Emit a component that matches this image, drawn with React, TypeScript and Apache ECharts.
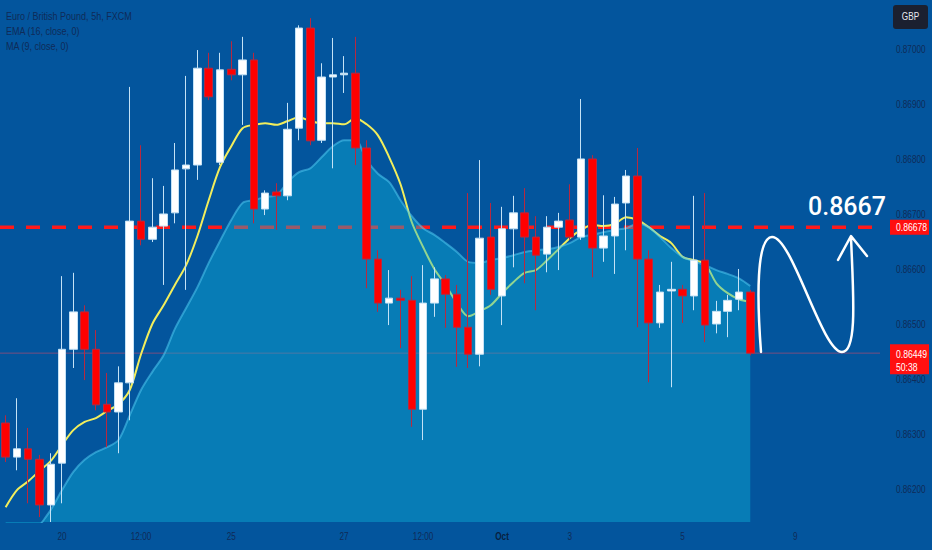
import React, { useEffect, useRef } from "react";
import * as echarts from "echarts";

// EUR/GBP 5h candles
const opens = [
  0.86322, 0.8626, 0.86275, 0.86256, 0.86173, 0.86249, 0.86456, 0.86524, 0.86456, 0.86356,
  0.86342, 0.86395, 0.86689, 0.86656, 0.8668, 0.86704, 0.86784, 0.86791, 0.86967, 0.86796,
  0.86965, 0.86955, 0.86982, 0.86711, 0.86742, 0.86735, 0.86858, 0.8704, 0.86836, 0.86951,
  0.86955, 0.86958, 0.86822, 0.8662, 0.8654, 0.86549, 0.86545, 0.86347, 0.8654, 0.86584,
  0.86556, 0.86496, 0.86447, 0.8666, 0.86553, 0.86675, 0.86704, 0.8666, 0.86629, 0.86678,
  0.86691, 0.8666, 0.86802, 0.8664, 0.86662, 0.86722, 0.86771, 0.8662, 0.86504, 0.86562,
  0.86565, 0.86553, 0.86618, 0.86502, 0.86525, 0.86547, 0.8656
];
const closes = [
  0.8626, 0.86275, 0.86256, 0.86173, 0.86247, 0.86456, 0.86524, 0.86456, 0.86355, 0.86342,
  0.86395, 0.86689, 0.86656, 0.86678, 0.86702, 0.86782, 0.86791, 0.86967, 0.86915, 0.86964,
  0.86955, 0.86982, 0.86711, 0.8674, 0.86735, 0.86856, 0.8704, 0.86835, 0.86951, 0.86955,
  0.86958, 0.86822, 0.8662, 0.8654, 0.86549, 0.86545, 0.86347, 0.8654, 0.86584, 0.86556,
  0.86496, 0.86447, 0.86658, 0.86565, 0.86675, 0.86704, 0.8666, 0.86627, 0.86678, 0.86689,
  0.8666, 0.86802, 0.8664, 0.86662, 0.8672, 0.86771, 0.8662, 0.86504, 0.8656, 0.86565,
  0.86553, 0.86618, 0.865, 0.86525, 0.86545, 0.8656, 0.86449
];
const highs = [
  0.86336, 0.86367, 0.86313, 0.86264, 0.86267, 0.86589, 0.86595, 0.86536, 0.86491, 0.86413,
  0.86425, 0.86933, 0.86827, 0.86767, 0.86753, 0.86831, 0.86953, 0.87, 0.86995, 0.86995,
  0.87016, 0.87024, 0.86995, 0.86745, 0.86758, 0.86904, 0.87045, 0.87058, 0.86976, 0.87022,
  0.86989, 0.87024, 0.86836, 0.86636, 0.866, 0.86564, 0.86589, 0.86609, 0.86605, 0.86591,
  0.86573, 0.8674, 0.868, 0.86722, 0.86715, 0.86735, 0.86749, 0.86698, 0.86698, 0.86704,
  0.86756, 0.86911, 0.86809, 0.86736, 0.86733, 0.86782, 0.86822, 0.86636, 0.86573, 0.86615,
  0.86573, 0.86735, 0.8674, 0.86544, 0.86555, 0.86602, 0.86564
];
const lows = [
  0.86251, 0.86236, 0.86176, 0.86151, 0.86142, 0.86176, 0.86422, 0.864, 0.86345, 0.86278,
  0.86267, 0.86327, 0.86645, 0.86651, 0.86573, 0.86685, 0.86564, 0.86764, 0.86909, 0.86791,
  0.86945, 0.86864, 0.86685, 0.867, 0.86673, 0.86727, 0.86836, 0.86827, 0.86831, 0.86785,
  0.86922, 0.86791, 0.86567, 0.86524, 0.865, 0.86458, 0.86315, 0.86291, 0.86515, 0.86495,
  0.86424, 0.86422, 0.86425, 0.86555, 0.865, 0.86605, 0.86576, 0.86527, 0.86596, 0.866,
  0.86655, 0.86655, 0.86587, 0.86615, 0.86593, 0.86636, 0.86496, 0.86396, 0.86495, 0.86387,
  0.86504, 0.86527, 0.86469, 0.86485, 0.86478, 0.86527, 0.86445
];

// yellow moving average line
const maValues = [
  0.86169, 0.862, 0.86216, 0.86235, 0.86253, 0.86282, 0.86309, 0.86324, 0.86331, 0.86344,
  0.86356, 0.86382, 0.86447, 0.86502, 0.86536, 0.86573, 0.86609, 0.86662, 0.86727, 0.86787,
  0.86825, 0.86858, 0.86864, 0.86867, 0.86864, 0.86871, 0.86878, 0.86871, 0.86867, 0.86867,
  0.86865, 0.86876, 0.86865, 0.86845, 0.86805, 0.86756, 0.86687, 0.86642, 0.86602, 0.86573,
  0.8654, 0.86516, 0.86525, 0.86536, 0.86558, 0.86578, 0.86595, 0.866, 0.86618, 0.86638,
  0.86658, 0.86673, 0.86682, 0.8668, 0.86684, 0.86696, 0.86691, 0.86678, 0.86662, 0.86649,
  0.86624, 0.86618, 0.86611, 0.86576, 0.86558, 0.86547, 0.86542
];

// slower average drawn as the filled area
const emaValues = [
  0.8604, 0.86071, 0.86104, 0.86135, 0.86164, 0.862, 0.86233, 0.86255, 0.86269, 0.86278,
  0.86291, 0.86336, 0.86382, 0.86415, 0.86445, 0.86493, 0.86531, 0.86569, 0.86613, 0.86653,
  0.86691, 0.86722, 0.86727, 0.86733, 0.86736, 0.8676, 0.86778, 0.86785, 0.86805, 0.86825,
  0.86836, 0.86836, 0.868, 0.86775, 0.8676, 0.86727, 0.86698, 0.86676, 0.86664, 0.86649,
  0.86633, 0.86615, 0.86613, 0.86618, 0.86622, 0.86627, 0.86633, 0.86636, 0.86638, 0.86642,
  0.86649, 0.8666, 0.86664, 0.86669, 0.86673, 0.86676, 0.86684, 0.86678, 0.8666, 0.8664,
  0.86624, 0.86616, 0.86609, 0.866, 0.86593, 0.86585, 0.86571
];

const EMPTY_BARS = 11; // empty slots to the right of the last candle
const tickMarks: [number, string][] = [
  [5, "20"], [12, "12:00"], [20, "25"], [30, "27"], [37, "12:00"],
  [44, "Oct"], [50, "3"], [60, "5"], [70, "9"]
];
const priceTicks = [0.862, 0.863, 0.864, 0.865, 0.866, 0.867, 0.868, 0.869, 0.87];
const targetLevel = 0.86678;
const targetText = "0.8667";
const lastPrice = 0.86449;
const countdown = "50:38";
const legendLines = ["Euro / British Pound, 5h, FXCM", "EMA (16, close, 0)", "MA (9, close, 0)"];

const WAVE_PATH =
  "M761 352 C757 300 756 238 772 237 C792 236 822 352 842 352 C858 352 853 290 851 237 M838 260 L851 236 L867 256";
echarts.graphic.registerShape("waveArrow", echarts.graphic.extendPath(WAVE_PATH, {}));

const BG = "#03559d";
const TEXT = "#0f2b58";
const FONT = "'Liberation Sans', Arial, sans-serif";
const SQUEEZE = 0.82; // the original uses a narrow UI font

const App = () => {
  const ref = useRef<HTMLDivElement>(null);

  useEffect(() => {
    const total = opens.length + EMPTY_BARS;
    const categories = Array.from({ length: total }, (_, i) => String(i));
    const candles = opens.map((o, i) => [o, closes[i], lows[i], highs[i]]);

    const chart = echarts.init(ref.current, null, { renderer: "svg" });
    chart.setOption({
      animation: false,
      backgroundColor: BG,
      grid: { left: 0, right: 52, top: 0, bottom: 28 },
      xAxis: {
        type: "category",
        data: categories,
        boundaryGap: true,
        axisLine: { show: false },
        axisTick: { show: false },
        splitLine: { show: false },
        axisLabel: { show: false }
      },
      yAxis: {
        type: "value",
        position: "right",
        min: 0.86142,
        max: 0.87091,
        axisLine: { show: false },
        axisTick: { show: false },
        splitLine: { show: false },
        axisLabel: { show: false }
      },
      series: [
        {
          name: "MA (9, close, 0)",
          type: "line",
          data: maValues,
          z: 2,
          showSymbol: false,
          smooth: 0.3,
          lineStyle: { color: "#f2ee5c", width: 2 }
        },
        {
          name: "EMA (16, close, 0)",
          type: "line",
          data: emaValues,
          z: 3,
          showSymbol: false,
          smooth: 0.3,
          lineStyle: { color: "rgba(80,200,240,0.55)", width: 2 },
          areaStyle: { color: "rgba(15,178,218,0.6)", origin: "start" }
        },
        {
          type: "candlestick",
          data: candles,
          z: 4,
          barWidth: 8,
          itemStyle: {
            color: "#ffffff",
            color0: "#ff0000",
            borderColor: "#c4e2f6",
            borderColor0: "#b8283f",
            borderWidth: 1
          }
        }
      ]
    });

    const yPix = (v: number) => chart.convertToPixel({ yAxisIndex: 0 }, v) as number;
    const xPix = (i: number) => chart.convertToPixel({ xAxisIndex: 0 }, i) as number;
    const yTarget = yPix(targetLevel);
    const yLast = yPix(lastPrice);
    const plotRight = 880;

    const smallText = (text: string, x: number, y: number, fill: string, extra: any = {}) => ({
      type: "text",
      x,
      y,
      scaleX: SQUEEZE,
      silent: true,
      z: 50,
      style: { text, fill, fontSize: 11, fontFamily: FONT, verticalAlign: "middle", ...extra }
    });

    chart.setOption({
      graphic: [
        // price levels sit under the translucent area
        {
          type: "line",
          z: 2,
          silent: true,
          shape: { x1: 0, y1: yTarget, x2: plotRight, y2: yTarget },
          style: { stroke: "#ff1a1a", lineWidth: 3.5, lineDash: [14, 12] }
        },
        {
          type: "line",
          z: 2,
          silent: true,
          shape: { x1: 0, y1: yLast, x2: plotRight, y2: yLast },
          style: { stroke: "rgba(235,70,100,0.5)", lineWidth: 1 }
        },
        ...legendLines.map((t, i) => smallText(t, 6, 16 + i * 15, TEXT)),
        ...priceTicks.map((v) =>
          smallText(v.toFixed(5), 896, yPix(v), TEXT, { fontSize: 10 })
        ),
        ...tickMarks.map(([i, l]) =>
          smallText(l, xPix(i), 537, l === "Oct" ? "#081f40" : TEXT, {
            fontSize: 10,
            align: "center",
            fontWeight: l === "Oct" ? "bold" : "normal"
          })
        ),
        {
          type: "rect",
          z: 50,
          shape: { x: 893, y: 5, width: 35, height: 24, r: 3 },
          style: { fill: "#1b2030" }
        },
        smallText("GBP", 910.5, 17, "#e8eaf0", { fontSize: 10, align: "center" }),
        {
          type: "rect",
          z: 50,
          shape: { x: 890, y: yTarget - 7.5, width: 39, height: 15 },
          style: { fill: "#ff1010" }
        },
        smallText(targetLevel.toFixed(5), 896, yTarget, "#ffffff", { fontSize: 10.5 }),
        {
          type: "rect",
          z: 50,
          shape: { x: 890, y: yLast - 9, width: 39, height: 30 },
          style: { fill: "#ff1010" }
        },
        smallText(lastPrice.toFixed(5), 896, yLast + 1, "#ffffff", { fontSize: 10.5 }),
        smallText(countdown, 896, yLast + 14, "#ffffff", { fontSize: 10.5 }),
        {
          type: "waveArrow",
          x: 0,
          y: 0,
          z: 100,
          silent: true,
          style: { fill: null, stroke: "#ffffff", lineWidth: 2.5, lineCap: "round", lineJoin: "round" }
        },
        {
          type: "text",
          x: 847,
          y: yTarget - 21,
          z: 100,
          silent: true,
          style: {
            text: targetText,
            fill: "#ffffff",
            fontSize: 25,
            fontWeight: 500,
            fontFamily: "Roboto, 'Open Sans', sans-serif",
            align: "center",
            verticalAlign: "middle"
          }
        }
      ]
    });

    return () => {
      chart.dispose();
    };
  }, []);

  return (
    <div
      ref={ref}
      style={{ position: "fixed", left: 0, top: 0, width: 932, height: 550 }}
    ></div>
  );
};

export default App;
